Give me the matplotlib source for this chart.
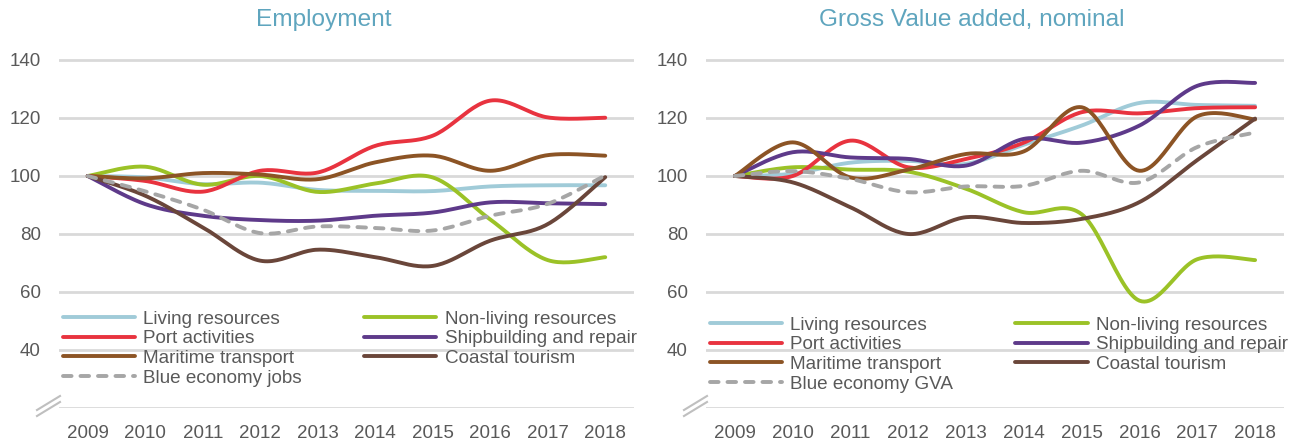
import numpy as np
import matplotlib
matplotlib.use("Agg")
import matplotlib.pyplot as plt
from matplotlib.lines import Line2D

plt.rcParams['font.family'] = ['Liberation Sans', 'DejaVu Sans']

years = ['2009', '2010', '2011', '2012', '2013', '2014', '2015', '2016', '2017', '2018']
yticks = [20, 40, 60, 80, 100, 120, 140]
ytick_labels = ['', '40', '60', '80', '100', '120', '140']

# Employment (index 2009 = 100)
emp_living = [100, 99.5, 97.2, 97.7, 95.2, 94.9, 94.8, 96.4, 96.8, 96.8]
emp_nonliving = [100, 103.2, 97.0, 100.0, 94.5, 97.4, 99.5, 85.0, 71.0, 72.0]
emp_port = [100, 98.3, 94.6, 101.8, 101.2, 110.4, 113.9, 126.0, 120.2, 120.1]
emp_ship = [100, 90.3, 86.3, 84.8, 84.6, 86.3, 87.4, 90.9, 90.6, 90.3]
emp_maritime = [100, 99.2, 101.0, 100.5, 98.9, 104.7, 107.0, 101.8, 107.2, 107.0]
emp_coastal = [100, 93.2, 82.3, 70.8, 74.6, 72.0, 69.0, 77.7, 83.4, 99.6]
emp_blue = [100, 94.7, 88.4, 80.3, 82.6, 82.1, 81.2, 86.3, 90.4, 100.2]

# Gross value added, nominal (index 2009 = 100)
gva_living = [100, 100.8, 104.6, 105.2, 104.2, 110.8, 117.4, 125.2, 124.5, 124.2]
gva_nonliving = [100, 103.0, 102.2, 101.5, 95.6, 87.5, 86.8, 57.0, 71.3, 71.0]
gva_port = [100, 100.0, 112.2, 103.0, 105.9, 111.5, 122.0, 121.6, 123.4, 123.7]
gva_ship = [100, 108.2, 106.4, 105.9, 103.6, 112.8, 111.5, 117.4, 131.1, 132.1]
gva_maritime = [100, 111.6, 99.5, 102.2, 107.6, 108.5, 123.7, 101.8, 120.6, 119.5]
gva_coastal = [100, 97.8, 89.2, 80.0, 85.8, 83.8, 85.2, 91.0, 105.5, 119.8]
gva_blue = [100, 101.7, 99.0, 94.4, 96.4, 96.6, 101.8, 97.8, 110.0, 115.0]

names = ['Living resources', 'Non-living resources', 'Port activities',
         'Shipbuilding and repair', 'Maritime transport', 'Coastal tourism']
colours = ['#A0CBD8', '#9BC227', '#E8333F', '#5E3A8A', '#8C5425', '#6A463A']
blue_colour = '#A6A6A6'
grid_colour = '#D9D9D9'
text_colour = '#595959'
title_colour = '#5FA5BE'


def smooth(y, n=24):
    # smoothed line like the spreadsheet one: bezier through each yearly point
    y = np.asarray(y, float)
    x = np.arange(len(y), dtype=float)
    px = np.concatenate([[x[0]], x, [x[-1]]])
    py = np.concatenate([[y[0]], y, [y[-1]]])
    t = np.linspace(0, 1, n, endpoint=False)[:, None]
    out = []
    for i in range(len(y) - 1):
        p0 = np.array([px[i], py[i]])
        p1 = np.array([px[i + 1], py[i + 1]])
        p2 = np.array([px[i + 2], py[i + 2]])
        p3 = np.array([px[i + 3], py[i + 3]])
        c1 = p1 + (p2 - p0) / 6
        c2 = p2 - (p3 - p1) / 6
        seg = ((1 - t) ** 3) * p1 + 3 * ((1 - t) ** 2) * t * c1 + 3 * (1 - t) * t ** 2 * c2 + t ** 3 * p2
        out.append(seg)
    out.append(np.array([[x[-1], y[-1]]]))
    out = np.vstack(out)
    return out[:, 0], out[:, 1]


fig = plt.figure(figsize=(13.06, 4.45), dpi=100)
W, H = 1306.0, 445.0

panels = [
    ('Employment', [emp_living, emp_nonliving, emp_port, emp_ship, emp_maritime, emp_coastal],
     emp_blue, 'Blue economy jobs', 59, 634, 324, 310.5),
    ('Gross Value added, nominal', [gva_living, gva_nonliving, gva_port, gva_ship, gva_maritime, gva_coastal],
     gva_blue, 'Blue economy GVA', 706, 1284, 972, 316.5),
]

for title, series, blue, blue_name, x0, x1, tx, leg_top in panels:
    ax = fig.add_axes([x0 / W, (H - 408) / H, (x1 - x0) / W, (408 - 45.5) / H])
    handles = {}
    for name, vals, col in zip(names, series, colours):
        sx, sy = smooth(vals)
        ln, = ax.plot(sx, sy, color=col, lw=2.8, solid_capstyle='round', label=name)
        handles[name] = ln
    sx, sy = smooth(blue)
    lb, = ax.plot(sx, sy, color=blue_colour, lw=2.8, dashes=(2.2, 2.3),
                  dash_capstyle='round', label=blue_name)

    ax.set_xlim(-0.5, 9.5)
    ax.set_ylim(20, 145)
    ax.set_xticks(range(len(years)))
    ax.set_xticklabels(years)
    ax.set_yticks(yticks)
    ax.set_yticklabels(ytick_labels)
    ax.tick_params(axis='both', length=0, labelsize=13.5, labelcolor=text_colour)
    ax.tick_params(axis='y', pad=13)
    ax.tick_params(axis='x', pad=12)
    ax.grid(axis='y', color=grid_colour, lw=2)
    ax.set_axisbelow(True)
    for s in ax.spines.values():
        s.set_visible(False)

    order = [handles['Living resources'], handles['Port activities'], handles['Maritime transport'], lb,
             handles['Non-living resources'], handles['Shipbuilding and repair'], handles['Coastal tourism']]
    ax.legend(handles=order, labels=[h.get_label() for h in order], ncol=2,
              loc='upper left', bbox_to_anchor=((x0 + 3.5) / W, 1 - leg_top / H),
              bbox_transform=fig.transFigure, frameon=False, fontsize=13.6,
              labelcolor=text_colour, handlelength=3.83, handletextpad=0.44,
              labelspacing=0.13, columnspacing=3.3, borderpad=0, borderaxespad=0)

    fig.text(tx / W, 1 - 20 / H, title, ha='center', va='center', fontsize=17.6, color=title_colour)

    # axis break marks
    bx = x0 - 22
    for dy in (0, 6):
        fig.add_artist(Line2D([(bx) / W, (bx + 23) / W], [1 - (410 + dy) / H, 1 - (396 + dy) / H],
                              color='#BFBFBF', lw=1.5))

fig.savefig('out.png', dpi=100)
